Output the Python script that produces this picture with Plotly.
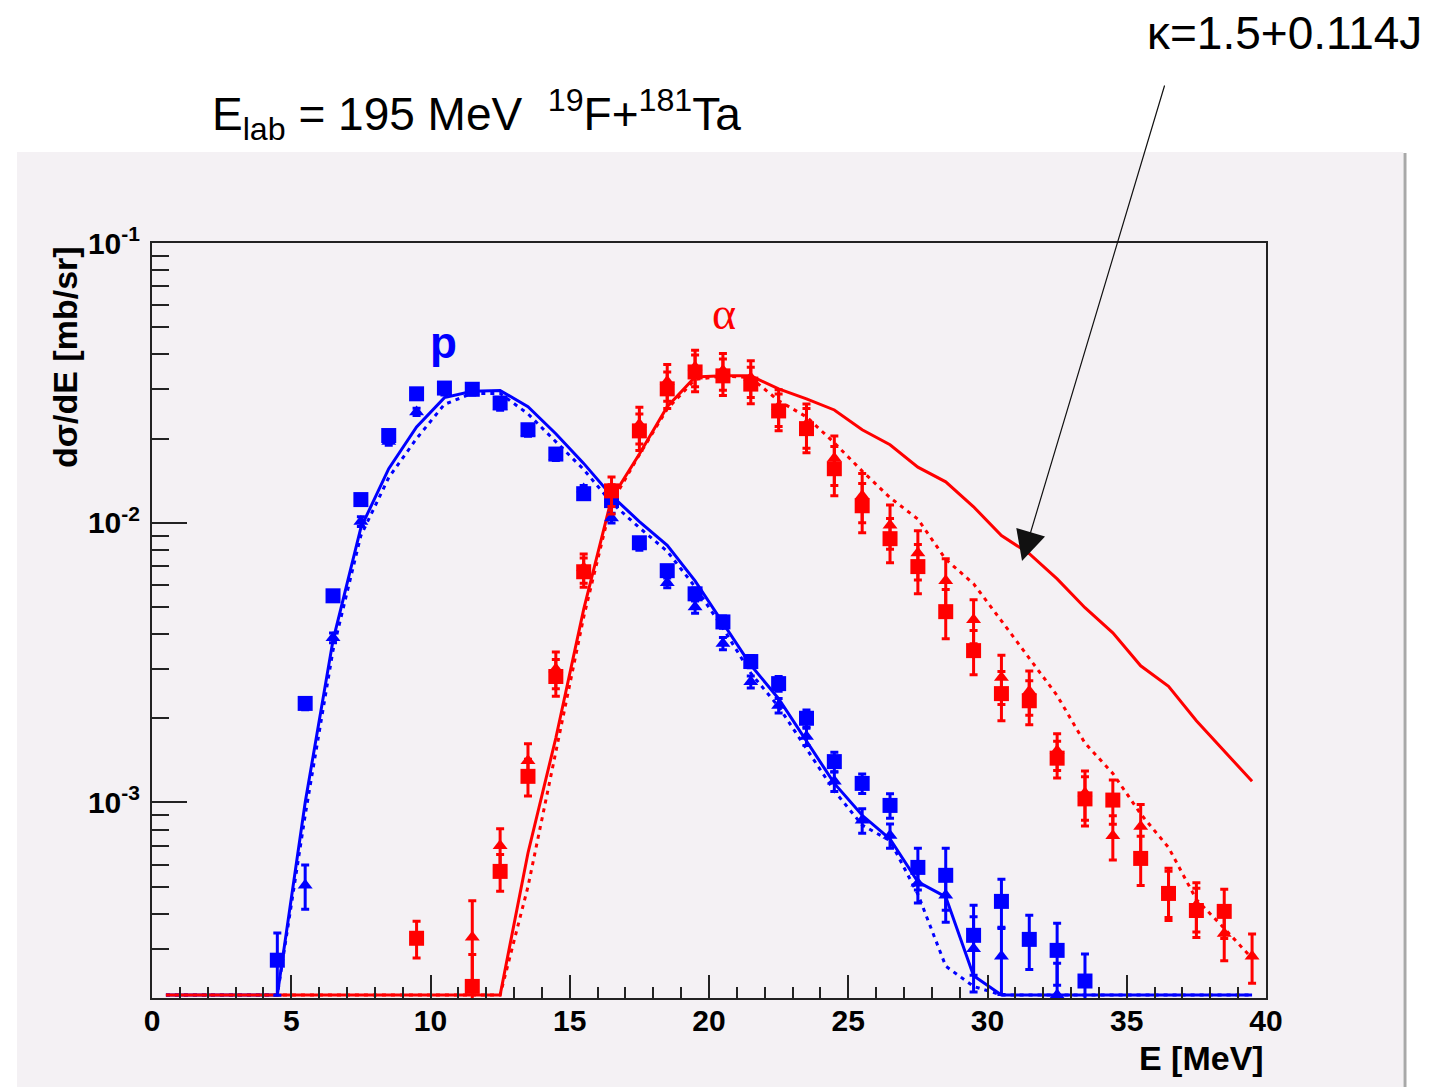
import numpy as np
import plotly.graph_objects as go

# ---------------------------------------------------------------
# Energy bin centres [MeV]
E = [0.5, 1.5, 2.5, 3.5, 4.5, 5.5, 6.5, 7.5, 8.5, 9.5,
     10.5, 11.5, 12.5, 13.5, 14.5, 15.5, 16.5, 17.5, 18.5, 19.5,
     20.5, 21.5, 22.5, 23.5, 24.5, 25.5, 26.5, 27.5, 28.5, 29.5,
     30.5, 31.5, 32.5, 33.5, 34.5, 35.5, 36.5, 37.5, 38.5, 39.5]

# Statistical-model spectra (mb/sr/MeV), empty bins = 0
p_calc_solid = [0, 0, 0, 0, 0, 1.0e-3, 3.8e-3, 9.6e-3, 1.56e-2, 2.2e-2,
                2.8e-2, 2.95e-2, 2.97e-2, 2.6e-2, 2.08e-2, 1.63e-2, 1.25e-2, 1.01e-2, 8.3e-3, 6.2e-3,
                4.4e-3, 3.1e-3, 2.35e-3, 1.66e-3, 1.17e-3, 9.0e-4, 7.4e-4, 5.2e-4, 4.6e-4, 2.4e-4,
                0, 0, 0, 0, 0, 0, 0, 0, 0, 0]
p_calc_dotted = [0, 0, 0, 0, 0, 9.0e-4, 3.5e-3, 9.0e-3, 1.45e-2, 2.0e-2,
                 2.65e-2, 2.9e-2, 2.9e-2, 2.45e-2, 1.95e-2, 1.55e-2, 1.18e-2, 9.6e-3, 7.9e-3, 5.9e-3,
                 4.2e-3, 2.9e-3, 2.2e-3, 1.55e-3, 1.1e-3, 8.3e-4, 7.3e-4, 4.7e-4, 2.6e-4, 2.2e-4,
                 0, 0, 0, 0, 0, 0, 0, 0, 0, 0]
a_calc_solid = [0, 0, 0, 0, 0, 0, 0, 0, 0, 0,
                0, 0, 0, 6.6e-4, 1.7e-3, 4.9e-3, 1.22e-2, 1.76e-2, 2.6e-2, 3.32e-2,
                3.35e-2, 3.35e-2, 3.01e-2, 2.77e-2, 2.53e-2, 2.15e-2, 1.9e-2, 1.58e-2, 1.4e-2, 1.14e-2,
                9.0e-3, 7.75e-3, 6.3e-3, 4.97e-3, 4.04e-3, 3.08e-3, 2.6e-3, 1.96e-3, 1.53e-3, 1.19e-3]
a_calc_dotted = [0, 0, 0, 0, 0, 0, 0, 0, 0, 0,
                 0, 0, 0, 5.0e-4, 1.5e-3, 4.6e-3, 1.18e-2, 1.75e-2, 2.55e-2, 3.25e-2,
                 3.35e-2, 3.3e-2, 2.73e-2, 2.39e-2, 1.93e-2, 1.53e-2, 1.23e-2, 1.03e-2, 7.4e-3, 6.05e-3,
                 4.46e-3, 3.27e-3, 2.41e-3, 1.63e-3, 1.27e-3, 9.1e-4, 6.9e-4, 4.5e-4, 3.55e-4, 2.77e-4]

# Measured protons, detector set 1 (squares)
p_sq_E = [4.5, 5.5, 6.5, 7.5, 8.5, 9.5, 10.5, 11.5, 12.5, 13.5, 14.5, 15.5, 16.5, 17.5, 18.5,
          19.5, 20.5, 21.5, 22.5, 23.5, 24.5, 25.5, 26.5, 27.5, 28.5, 29.5, 30.5, 31.5, 32.5, 33.5]
p_sq_val = [2.73e-4, 2.26e-3, 5.48e-3, 1.21e-2, 2.05e-2, 2.89e-2, 3.03e-2, 3.0e-2, 2.68e-2, 2.15e-2,
            1.76e-2, 1.27e-2, 1.2e-2, 8.48e-3, 6.74e-3, 5.57e-3, 4.42e-3, 3.19e-3, 2.66e-3, 2.0e-3,
            1.4e-3, 1.17e-3, 9.76e-4, 5.86e-4, 5.49e-4, 3.35e-4, 4.43e-4, 3.24e-4, 2.96e-4, 2.3e-4]
p_sq_rel = [0.25, 0.05, 0.04, 0.04, 0.03, 0.03, 0.03, 0.03, 0.03, 0.03,
            0.03, 0.03, 0.04, 0.04, 0.04, 0.05, 0.05, 0.05, 0.06, 0.07,
            0.08, 0.08, 0.1, 0.17, 0.25, 0.28, 0.2, 0.22, 0.25, 0.25]

# Measured protons, detector set 2 (triangles)
p_tr_E = [5.5, 6.5, 7.5, 8.5, 9.5, 10.5, 11.5, 12.5, 13.5, 14.5, 15.5, 16.5, 17.5, 18.5, 19.5,
          20.5, 21.5, 22.5, 23.5, 24.5, 25.5, 26.5, 27.5, 28.5, 29.5, 30.5, 32.5]
p_tr_val = [5.06e-4, 3.88e-3, 1.01e-2, 1.95e-2, 2.49e-2, 2.95e-2, 2.95e-2, 2.6e-2, 2.1e-2, 1.72e-2,
            1.32e-2, 1.04e-2, 8.3e-3, 6.1e-3, 5.0e-3, 3.7e-3, 2.7e-3, 2.22e-3, 1.72e-3, 1.19e-3,
            8.63e-4, 7.62e-4, 5.14e-4, 4.66e-4, 3.0e-4, 2.82e-4, 2.05e-4]
p_tr_rel = [0.18, 0.04, 0.04, 0.03, 0.03, 0.03, 0.03, 0.03, 0.03, 0.03,
            0.03, 0.04, 0.04, 0.04, 0.05, 0.05, 0.05, 0.06, 0.07, 0.08,
            0.1, 0.1, 0.15, 0.2, 0.3, 0.27, 0.3]

# Measured alphas, detector set 1 (squares)
a_sq_E = [9.5, 11.5, 12.5, 13.5, 14.5, 15.5, 16.5, 17.5, 18.5, 19.5, 20.5, 21.5, 22.5, 23.5, 24.5,
          25.5, 26.5, 27.5, 28.5, 29.5, 30.5, 31.5, 32.5, 33.5, 34.5, 35.5, 36.5, 37.5, 38.5]
a_sq_val = [3.27e-4, 2.2e-4, 5.67e-4, 1.24e-3, 2.82e-3, 6.68e-3, 1.3e-2, 2.13e-2, 3.01e-2, 3.46e-2,
            3.35e-2, 3.13e-2, 2.51e-2, 2.17e-2, 1.56e-2, 1.15e-2, 8.77e-3, 6.97e-3, 4.81e-3, 3.49e-3,
            2.45e-3, 2.31e-3, 1.44e-3, 1.03e-3, 1.02e-3, 6.31e-4, 4.73e-4, 4.11e-4, 4.08e-4]
a_sq_rel = [0.15, 0.3, 0.15, 0.15, 0.15, 0.12, 0.12, 0.15, 0.15, 0.15,
            0.15, 0.15, 0.15, 0.18, 0.2, 0.2, 0.18, 0.2, 0.2, 0.18,
            0.2, 0.18, 0.15, 0.2, 0.18, 0.2, 0.2, 0.2, 0.2]

# Measured alphas, detector set 2 (triangles)
a_tr_E = [11.5, 12.5, 13.5, 14.5, 15.5, 16.5, 17.5, 18.5, 19.5, 20.5, 21.5, 22.5, 23.5, 24.5, 25.5,
          26.5, 27.5, 28.5, 29.5, 30.5, 31.5, 32.5, 33.5, 34.5, 35.5, 36.5, 37.5, 38.5, 39.5]
a_tr_val = [3.3e-4, 7.0e-4, 1.41e-3, 3.0e-3, 6.9e-3, 1.22e-2, 2.25e-2, 3.2e-2, 3.6e-2, 3.5e-2,
            3.3e-2, 2.6e-2, 2.25e-2, 1.7e-2, 1.25e-2, 9.8e-3, 7.8e-3, 6.2e-3, 4.5e-3, 2.8e-3,
            2.5e-3, 1.53e-3, 1.08e-3, 7.6e-4, 8.2e-4, 4.85e-4, 4.3e-4, 3.4e-4, 2.82e-4]
a_tr_rel = [0.35, 0.15, 0.15, 0.15, 0.12, 0.12, 0.15, 0.15, 0.15, 0.15,
            0.15, 0.15, 0.18, 0.2, 0.2, 0.18, 0.2, 0.2, 0.18, 0.2,
            0.18, 0.15, 0.2, 0.18, 0.2, 0.2, 0.2, 0.2, 0.2]

y_tick_vals = [1e-3, 1e-2, 1e-1]
y_tick_text = ["10<sup>-3</sup>", "10<sup>-2</sup>", "10<sup>-1</sup>"]
x_tick_vals = [0, 5, 10, 15, 20, 25, 30, 35, 40]
x_tick_text = ["0", "5", "10", "15", "20", "25", "30", "35", "40"]

# ---------------------------------------------------------------
Y_MIN = 2.0e-4          # lower edge of the log axis
FLOOR = 2.05e-4         # empty bins are drawn along the bottom of the frame
BLUE = "#0000ff"
RED = "#ff0000"
PANEL = "#f4f1f4"
FONT = "Liberation Sans, Arial, sans-serif"

W, H = 1432, 1087
L, R, T, B = 152, 166, 243, 89
PW, PH = W - L - R, H - T - B


def xp(px):
    return (px - L) / PW


def yp(py):
    return (H - B - py) / PH


fig = go.Figure()


def curve(y, color, dash):
    fig.add_trace(go.Scatter(
        x=E, y=np.maximum(np.array(y, dtype=float), FLOOR),
        mode="lines", line=dict(color=color, width=3, dash=dash),
        hoverinfo="skip"))


curve(p_calc_solid, BLUE, "solid")
curve(a_calc_solid, RED, "solid")
curve(p_calc_dotted, BLUE, "4px,5px")
curve(a_calc_dotted, RED, "4px,5px")


def points(x, y, rel, color, symbol, size):
    y = np.array(y, dtype=float)
    fig.add_trace(go.Scatter(
        x=x, y=y, mode="markers",
        marker=dict(color=color, symbol=symbol, size=size, line=dict(width=0)),
        error_y=dict(type="data", array=y * np.array(rel), color=color,
                     thickness=3, width=4),
        hoverinfo="skip"))


points(p_tr_E, p_tr_val, p_tr_rel, BLUE, "triangle-up", 13)
points(a_tr_E, a_tr_val, a_tr_rel, RED, "triangle-up", 13)
points(p_sq_E, p_sq_val, p_sq_rel, BLUE, "square", 15)
points(a_sq_E, a_sq_val, a_sq_rel, RED, "square", 15)

axis_common = dict(showline=True, linewidth=2, linecolor="#222", mirror=True,
                   showgrid=False, zeroline=False, ticks="inside",
                   tickcolor="#222", tickwidth=2,
                   tickfont=dict(family=FONT, size=30, color="black", weight="bold"))

fig.update_xaxes(range=[0, 40], tickvals=x_tick_vals, ticktext=x_tick_text,
                 ticklen=23, ticklabelstandoff=-5,
                 minor=dict(ticks="inside", dtick=1, ticklen=11, tickwidth=2,
                            tickcolor="#222", showgrid=False),
                 **axis_common)
fig.update_yaxes(type="log", range=[np.log10(Y_MIN), -1],
                 tickvals=y_tick_vals, ticktext=y_tick_text, ticklen=35,
                 ticklabelstandoff=4,
                 minor=dict(ticks="inside", ticklen=17, tickwidth=2, tickcolor="#222",
                            tickvals=[m * 10.0 ** e for e in (-4, -3, -2) for m in range(2, 10)],
                            showgrid=False),
                 **axis_common)

shapes = [
    # canvas pad
    dict(type="rect", xref="paper", yref="paper", x0=xp(17), x1=xp(1403),
         y0=yp(1100), y1=yp(152), fillcolor=PANEL, line=dict(width=0), layer="below"),
    # pad shadow on the right
    dict(type="line", xref="paper", yref="paper", x0=xp(1405), x1=xp(1405),
         y0=yp(1100), y1=yp(153), line=dict(color="#a8a8a8", width=3), layer="below"),
]

annotations = [
    dict(xref="paper", yref="paper", x=xp(210), y=yp(115), xanchor="left", yanchor="middle",
         text="E<sub>lab</sub> = 195 MeV\u00a0\u00a0<sup>19</sup>F+<sup>181</sup>Ta",
         showarrow=False, font=dict(family=FONT, size=46, color="black")),
    dict(xref="paper", yref="paper", x=xp(1424), y=yp(33), xanchor="right", yanchor="middle",
         text="κ=1.5+0.114J", showarrow=False,
         font=dict(family=FONT, size=46, color="black")),
    # arrow pointing at the solid alpha curve
    dict(x=31.24, y=np.log10(7.3e-3), xref="x", yref="y", text="",
         showarrow=True, ax=143, ay=-477, axref="pixel", ayref="pixel",
         arrowhead=2, arrowsize=5, arrowwidth=1.2, arrowcolor="#111", standoff=0),
    dict(x=10.45, y=np.log10(4.4e-2), xref="x", yref="y", text="p", showarrow=False,
         font=dict(family=FONT, size=44, color=BLUE, weight="bold")),
    dict(x=20.55, y=np.log10(5.6e-2), xref="x", yref="y", text="α", showarrow=False,
         font=dict(family="Liberation Serif, serif", size=46, color=RED)),
    dict(xref="paper", yref="paper", x=xp(65), y=yp(357), textangle=-90,
         text="dσ/dE [mb/sr]", showarrow=False, xanchor="center", yanchor="middle",
         font=dict(family=FONT, size=34, color="black", weight="bold")),
    dict(xref="paper", yref="paper", x=1.0, y=yp(1058), xanchor="right", yanchor="middle",
         text="E [MeV]", showarrow=False,
         font=dict(family=FONT, size=34, color="black", weight="bold")),
]

fig.update_layout(width=W, height=H, margin=dict(l=L, r=R, t=T, b=B, pad=0),
                  paper_bgcolor="white", plot_bgcolor="rgba(0,0,0,0)",
                  showlegend=False, shapes=shapes, annotations=annotations)

fig.write_html("out.html")
